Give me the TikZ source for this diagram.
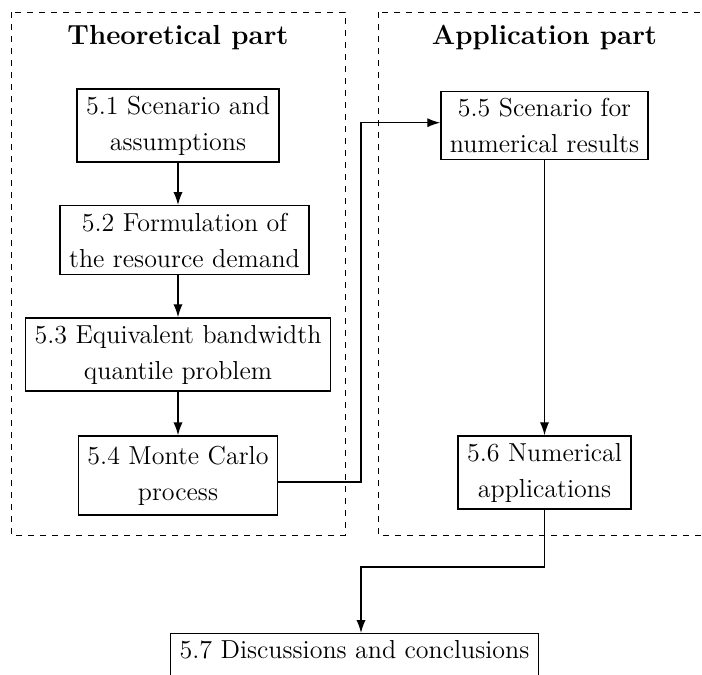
\documentclass[tikz,border=0pt]{standalone}
\usetikzlibrary{arrows.meta,positioning,calc}
\tikzset{
  part/.style={draw,dashed,line width=0.5pt},
  sec/.style ={draw,line width=0.7pt,align=center,inner xsep=4.5pt,inner ysep=3.5pt,
               font=\fontsize{13pt}{18pt}\selectfont},
  ttl/.style ={anchor=base,font=\fontsize{13.8pt}{16pt}\selectfont\bfseries},
  arr/.style ={draw,line width=0.7pt,-{Latex[length=6.5pt,width=4.6pt]}},
}

\begin{document}
\begin{tikzpicture}[x=0.5pt,y=-0.5pt]
  \useasboundingbox (0,0) rectangle (702,675);
  \clip (0,0) rectangle (702,675);
  % the two parts
  \draw[part] (11,12) rectangle (345,535);
  \draw[part] (378,12) rectangle (712,535);
  \node[ttl] (ttheo) at (178,44) {Theoretical part};
  \node[ttl] (tapp)  at (544.5,44) {Application part};
  \coordinate (col) at (178,0);
  \coordinate (gap) at (361,0);
  \coordinate (turn) at (361,567);
  % sections
  \node[sec] (s1) at (178,125.5)   {5.1 Scenario and\\assumptions};
  \node[sec] (s2) at (184.5,240)   {5.2 Formulation of\\the resource demand};
  \node[sec] (s3) at (178,354.5)   {5.3 Equivalent bandwidth\\quantile problem};
  \node[sec,minimum height=39.5pt] (s4) at (178,475.5) {5.4 Monte Carlo\\process};
  \node[sec] (s5) at (544.5,125.5) {5.5 Scenario for\\numerical results};
  \node[sec] (s6) at (544.5,472.5) {5.6 Numerical\\applications};
  \node[sec,anchor=north,text depth=8pt] (s7) at (354.5,633) {5.7 Discussions and conclusions};
  % links
  \draw[arr] (s1.south -| col) -- (s2.north -| col);
  \draw[arr] (s2.south -| col) -- (s3.north -| col);
  \draw[arr] (s3.south -| col) -- (s4.north -| col);
  \draw[arr] ([yshift=-3.25pt]s4.east) -- ([yshift=-3.25pt]s4.east -| gap)
             |- ([yshift=1.4pt]s5.west);
  \draw[arr] (s5) -- (s6);
  \draw[arr] (s6.south) |- (turn) -- (turn |- s7.north);
\end{tikzpicture}
\end{document}
